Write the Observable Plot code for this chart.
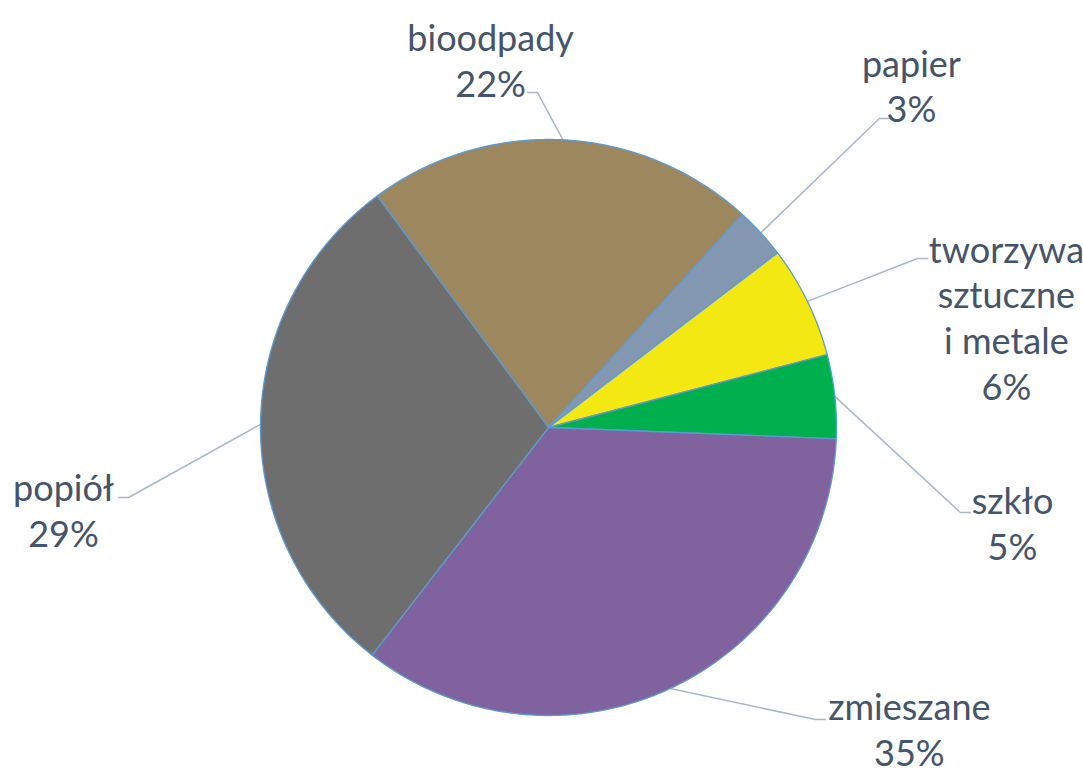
<!DOCTYPE html>
<html>
<head>
<meta charset="utf-8">
<script src="https://cdn.jsdelivr.net/npm/d3@7"></script>
<script src="https://cdn.jsdelivr.net/npm/@observablehq/plot@0.6"></script>
<style>
  html, body { margin: 0; padding: 0; background: #ffffff; }
  #chart svg { display: block; }
</style>
</head>
<body>
<div id="chart"></div>
<script>
// ---- data ----
const categories = ["bioodpady", "papier", "tworzywa sztuczne i metale", "szkło", "zmieszane", "popiół"];
const labelNames = ["bioodpady", "papier", "tworzywa\nsztuczne\ni metale", "szkło", "zmieszane", "popiół"];
const values = [21.9, 2.9, 6.3, 4.7, 34.9, 29.4];
const colors = ["#9D875F", "#8497B0", "#F4E812", "#00B04F", "#7F629E", "#6E6E6E"];

// ---- layout (unit circle coordinates: centre 0,0, radius 1) ----
const startDeg = -36.5;
const labelCenter = {
  "bioodpady": [-0.201, 1.279],
  "papier": [1.260, 1.190],
  "tworzywa sztuczne i metale": [1.590, 0.385],
  "szkło": [1.611, -0.330],
  "zmieszane": [1.253, -1.045],
  "popiół": [-1.684, -0.285]
};
const leaderEnd = {
  "bioodpady": [-0.073, 1.163],
  "papier": [1.184, 1.073],
  "tworzywa sztuczne i metale": [1.316, 0.587],
  "szkło": [1.465, -0.295],
  "zmieszane": [0.962, -1.014],
  "popiół": [-1.493, -0.243]
};
const elbowLen = 0.035;

const total = d3.sum(values);
const start = startDeg * Math.PI / 180;
const arcs = d3.pie().sort(null).startAngle(start).endAngle(start + 2 * Math.PI)(values);

const slices = arcs.map((a, i) => {
  const pts = [{x: 0, y: 0}];
  const n = Math.max(2, Math.ceil((a.endAngle - a.startAngle) / 0.01));
  for (let k = 0; k <= n; k++) {
    const t = a.startAngle + (a.endAngle - a.startAngle) * k / n;
    pts.push({x: Math.sin(t), y: Math.cos(t)});
  }
  pts.push({x: 0, y: 0});
  return {cat: categories[i], color: colors[i], pts};
});

const leaders = arcs.map((a, i) => {
  const cat = categories[i];
  const mid = (a.startAngle + a.endAngle) / 2;
  const p = {x: Math.sin(mid), y: Math.cos(mid)};
  const [ex, ey] = leaderEnd[cat];
  const side = Math.sign(p.x - ex);
  return [p, {x: ex + side * elbowLen, y: ey}, {x: ex, y: ey}];
});

const labels = categories.map((cat, i) => ({
  x: labelCenter[cat][0],
  y: labelCenter[cat][1],
  text: labelNames[i] + "\n" + Math.round(values[i] / total * 100) + "%"
}));

const W = 1083, H = 776, cx = 548, cy = 427, R = 288;

const chart = Plot.plot({
  width: W,
  height: H,
  margin: 0,
  x: {domain: [-cx / R, (W - cx) / R], axis: null},
  y: {domain: [-(H - cy) / R, cy / R], axis: null},
  style: {background: "#ffffff", fontFamily: "Lato, 'Open Sans', sans-serif"},
  marks: [
    ...leaders.map(l => Plot.line(l, {x: "x", y: "y", stroke: "#A9B7CB", strokeWidth: 1.5})),
    ...slices.map(s => Plot.line(s.pts, {x: "x", y: "y", fill: s.color, stroke: "#5B9BD5", strokeWidth: 1.3, strokeLinejoin: "round"})),
    Plot.text(labels, {x: "x", y: "y", text: "text", fontSize: 36, lineHeight: 1.27, fill: "#44546A", textAnchor: "middle"})
  ]
});
document.getElementById("chart").appendChild(chart);
</script>
</body>
</html>
